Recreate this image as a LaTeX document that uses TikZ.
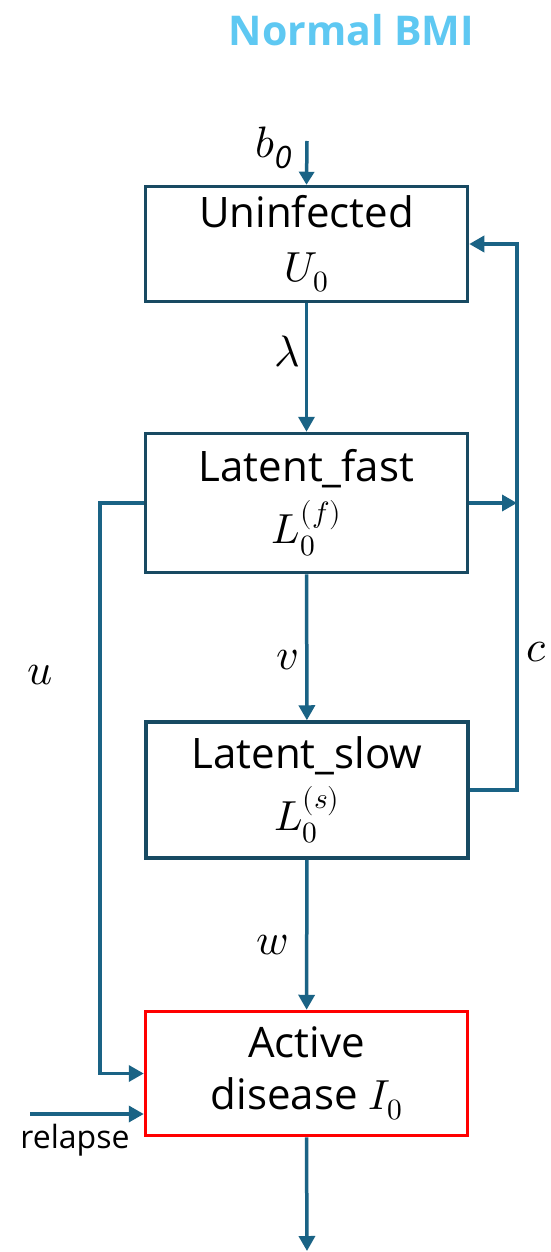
\documentclass[tikz,border=0pt]{standalone}
\usepackage{fontspec}
\usepackage{unicode-math}
\setmainfont{Open Sans}
\setmathfont{Latin Modern Math}
\usetikzlibrary{arrows.meta}
\definecolor{conn}{RGB}{26,99,133}
\definecolor{boxline}{RGB}{24,74,98}
\definecolor{titleblue}{RGB}{94,200,242}
\definecolor{boxred}{RGB}{255,0,0}
\tikzset{
  box/.style={draw=boxline, line width=3.5pt, minimum width=322pt, align=center, inner sep=0pt,
    font=\fontsize{42}{56}\selectfont},
  arr/.style={draw=conn, line width=3.5pt, -{Triangle[length=15pt,width=16pt]}},
  lab/.style={font=\fontsize{44}{46}\selectfont},
}
\begin{document}
\begin{tikzpicture}[x=1pt,y=-1pt]
\useasboundingbox[fill=white] (0,0) rectangle (551,1252);
\node[font=\fontsize{41}{44}\selectfont\bfseries, text=titleblue] (title) at (351.5,30) {Normal BMI};
\node[box, minimum height=115pt] (U) at (306.5,244) {Uninfected\\[-2pt]$U_0$};
\node[box, minimum height=139pt] (LF) at (306.5,503) {Latent\_fast\\[6pt]$L_0^{(f)}$};
\node[box, minimum height=136pt] (LS) at (307,790) {Latent\_slow\\[6pt]$L_0^{(s)}$};
\node[box, draw=boxred, minimum height=124pt] (A) at (306.5,1073.5) {Active\\[-4pt]disease $I_0$};
\coordinate (b0s) at (307,141);
\coordinate (rc) at (517,0);
\coordinate (lc) at (100,0);
\coordinate (rl) at (30,1114);
\coordinate (out) at (307,1251);
\draw[arr, -{Triangle[length=13pt,width=15pt]}] (b0s) -- (U.north);
\draw[arr] (U) -- (LF);
\draw[arr] (LF) -- (LS);
\draw[arr] (LS) -- (A);
\draw[arr] (LS.east) -| (rc |- U.east) -- (U.east);
\draw[arr] (LF.east) -- (rc |- LF.east);
\draw[arr] (LF.west) -- (lc |- LF.west) |- (A.west);
\draw[arr] (rl) -- (A.west |- rl);
\draw[arr] (A.south) -- (out);
\node[lab] (lb) at (274,148) {$b_{\mathit{0}}$};
\node[lab] (ll) at (287,352) {$\lambda$};
\node[lab] (lv) at (287,660) {$v$};
\node[lab] (lw) at (272,945) {$w$};
\node[lab] (lcl) at (537,652) {$c$};
\node[lab] (lu) at (40,675) {$u$};
\node[font=\fontsize{32}{34}\selectfont] (rel) at (75,1140) {relapse};
\end{tikzpicture}
\end{document}
